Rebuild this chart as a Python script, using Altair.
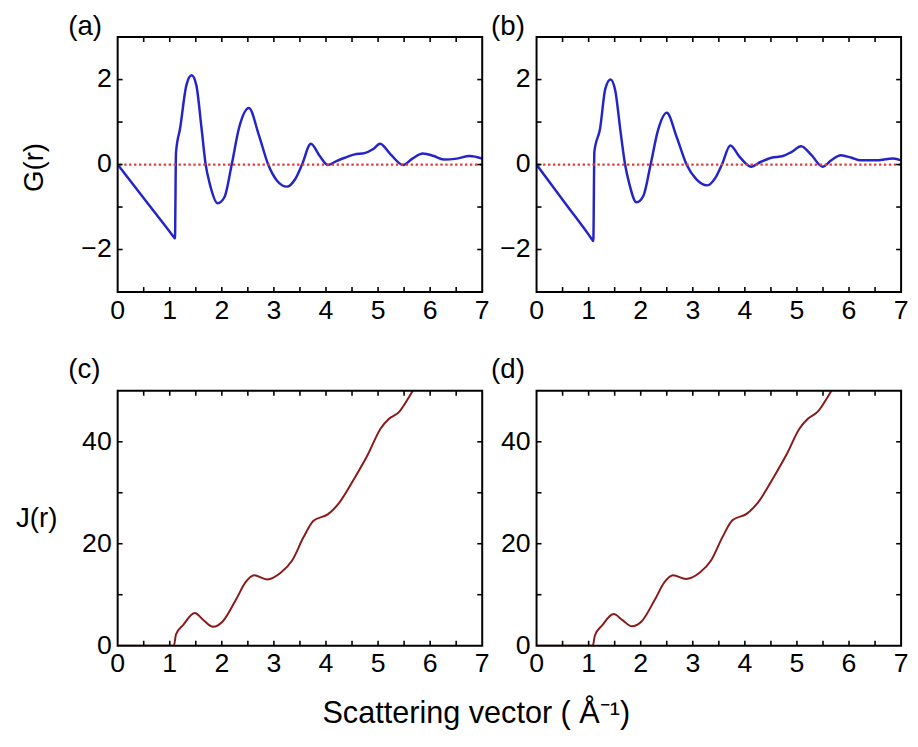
import altair as alt
import pandas as pd

FONT = "Liberation Sans"

# ---- data ----
# (a) G(r)
ga_x = [0.00, 0.55, 1.00, 1.08, 1.10, 1.12, 1.20, 1.32, 1.42, 1.51, 1.61, 1.69, 1.77, 1.92,
        2.05, 2.19, 2.33, 2.52, 2.71, 2.89, 3.06, 3.25, 3.41, 3.54, 3.71, 3.88, 4.04, 4.20,
        4.36, 4.55, 4.74, 4.90, 5.04, 5.24, 5.48, 5.66, 5.86, 6.07, 6.26, 6.51, 6.76, 7.00]
ga_y = [0.00, -0.87, -1.58, -1.71, -1.74, 0.28, 0.86, 1.87, 2.10, 1.87, 0.86, 0.00, -0.46, -0.91,
        -0.77, 0.00, 0.86, 1.33, 0.70, 0.00, -0.38, -0.52, -0.34, 0.00, 0.49, 0.20, -0.01, 0.08,
        0.16, 0.24, 0.27, 0.36, 0.49, 0.24, -0.01, 0.14, 0.26, 0.20, 0.12, 0.14, 0.20, 0.14]
# (b) G(r)
gb_x = [0.00, 0.55, 1.00, 1.07, 1.09, 1.11, 1.22, 1.32, 1.42, 1.51, 1.61, 1.70, 1.78, 1.92,
        2.05, 2.19, 2.33, 2.50, 2.69, 2.88, 3.07, 3.28, 3.43, 3.56, 3.72, 3.90, 4.12, 4.30,
        4.51, 4.73, 4.90, 5.08, 5.28, 5.49, 5.66, 5.84, 6.05, 6.22, 6.50, 6.85, 7.00]
gb_y = [0.00, -0.91, -1.65, -1.77, -1.80, 0.30, 0.85, 1.78, 2.00, 1.75, 0.80, 0.00, -0.45, -0.89,
        -0.74, 0.00, 0.80, 1.22, 0.65, 0.00, -0.35, -0.49, -0.32, 0.00, 0.45, 0.18, -0.05, 0.06,
        0.16, 0.20, 0.30, 0.43, 0.22, -0.05, 0.10, 0.22, 0.16, 0.10, 0.10, 0.14, 0.10]
# (c) J(r)
jc_x = [0.00, 1.08, 1.12, 1.26, 1.48, 1.65, 1.83, 2.02, 2.27, 2.46, 2.62, 2.87, 3.13, 3.35,
        3.57, 3.76, 4.04, 4.23, 4.55, 4.80, 5.05, 5.21, 5.40, 5.59, 5.72]
jc_y = [0.0, 0.0, 2.2, 4.1, 6.4, 5.0, 3.7, 4.8, 9.0, 12.5, 13.8, 13.0, 14.3, 16.7,
        21.3, 24.5, 25.8, 27.7, 32.9, 37.4, 42.6, 44.5, 45.8, 48.7, 51.0]
# (d) J(r)
jd_x = [0.00, 1.08, 1.12, 1.26, 1.48, 1.65, 1.83, 2.02, 2.27, 2.46, 2.62, 2.87, 3.13, 3.35,
        3.57, 3.76, 4.04, 4.23, 4.55, 4.80, 5.05, 5.21, 5.40, 5.59, 5.72]
jd_y = [0.0, 0.0, 2.0, 4.0, 6.2, 5.0, 3.8, 4.8, 9.0, 12.5, 13.8, 13.1, 14.3, 16.7,
        21.3, 24.6, 25.9, 27.8, 33.0, 37.5, 42.6, 44.5, 45.9, 48.8, 51.0]

x_labels = [0, 1, 2, 3, 4, 5, 6, 7]
x_ticks = [0.5, 1, 1.5, 2, 2.5, 3, 3.5, 4, 4.5, 5, 5.5, 6, 6.5]
g_labels = [-2, 0, 2]
g_ticks = [-2, -1, 0, 1, 2]
j_labels = [0, 20, 40]
j_ticks = [10, 20, 30, 40]
zero_level = [0]
panel_labels = ["(a)", "(b)", "(c)", "(d)"]
y_titles = ["G(r)", "J(r)"]
x_title = ["Scattering vector ( Å⁻¹)"]
frame_row = [0]

XDOM = [0, 7]
W, H = 369, 258
TICK = 5
LBL = 27
BLUE = "#2424c8"
RED = "#8a1a1a"


def text_layer(strings, **kw):
    pos = {k: kw.pop(k) for k in ("x", "y")}
    return alt.Chart(pd.DataFrame({"s": strings})).mark_text(
        font=FONT, color="black", **kw).encode(
        text="s:N", x=alt.value(pos["x"]), y=alt.value(pos["y"]))


def panel(xs, ys, color, width, ydom, yticks, ylabels, label, lab_dx, lab_dy, extra, zero):
    xsc = alt.Scale(domain=XDOM, nice=False, zero=False)
    ysc = alt.Scale(domain=ydom, nice=False, zero=False)

    line = alt.Chart(pd.DataFrame({"x": xs, "y": ys})).mark_line(
        color=color, strokeWidth=width, interpolate="monotone", clip=True).encode(
        x=alt.X("x:Q", scale=xsc, axis=None), y=alt.Y("y:Q", scale=ysc, axis=None))

    # inward tick marks: tick length converted from pixels to data units
    ylen = TICK / H * (ydom[1] - ydom[0])
    xlen = TICK / W * (XDOM[1] - XDOM[0])
    nx, ny = len(x_ticks), len(yticks)
    xtick_df = pd.DataFrame({
        "t": x_ticks * 2,
        "a": [ydom[0]] * nx + [ydom[1] - ylen] * nx,
        "b": [ydom[0] + ylen] * nx + [ydom[1]] * nx})
    ytick_df = pd.DataFrame({
        "t": yticks * 2,
        "a": [XDOM[0]] * ny + [XDOM[1] - xlen] * ny,
        "b": [XDOM[0] + xlen] * ny + [XDOM[1]] * ny})
    rk = dict(color="black", strokeWidth=1.6)
    xtk = alt.Chart(xtick_df).mark_rule(**rk).encode(
        x=alt.X("t:Q", scale=xsc, axis=None),
        y=alt.Y("a:Q", scale=ysc, axis=None), y2="b:Q")
    ytk = alt.Chart(ytick_df).mark_rule(**rk).encode(
        y=alt.Y("t:Q", scale=ysc, axis=None),
        x=alt.X("a:Q", scale=xsc, axis=None), x2="b:Q")

    frame = alt.Chart(pd.DataFrame({"f": frame_row})).mark_rect(
        filled=False, stroke="black", strokeWidth=2).encode(
        x=alt.value(0), x2=alt.value(W), y=alt.value(0), y2=alt.value(H))

    xlab = alt.Chart(pd.DataFrame({"v": x_labels})).mark_text(
        font=FONT, fontSize=LBL, color="black", align="center", baseline="alphabetic").encode(
        x=alt.X("v:Q", scale=xsc, axis=None), y=alt.value(H + 27),
        text=alt.Text("v:Q", format="d"))
    ylab = alt.Chart(pd.DataFrame({"v": ylabels})).mark_text(
        font=FONT, fontSize=LBL, color="black", align="right", baseline="middle").encode(
        y=alt.Y("v:Q", scale=ysc, axis=None), x=alt.value(-6),
        text=alt.Text("v:Q", format="d"))
    plab = text_layer([label], x=lab_dx, y=lab_dy, fontSize=28, align="left",
                      baseline="alphabetic")

    layers = [line]
    if zero:
        zl = alt.Chart(pd.DataFrame({"z": zero_level})).mark_rule(
            color="#e23c3c", strokeWidth=2.2, strokeDash=[2.4, 2.6]).encode(
            y=alt.Y("z:Q", scale=ysc, axis=None))
        layers.append(zl)
    layers += [xtk, ytk, frame, xlab, ylab, plab] + extra
    return alt.layer(*layers).properties(width=W, height=H)


g_title = text_layer([y_titles[0]], x=-84, y=132, fontSize=28, angle=270, align="center",
                     baseline="middle")
j_title = text_layer([y_titles[1]], x=-82, y=130, fontSize=28, align="center",
                     baseline="middle")
x_title_mark = text_layer(x_title, x=363, y=H + 78, fontSize=31, align="center",
                          baseline="alphabetic")

pa = panel(ga_x, ga_y, BLUE, 2.5, [-3, 3], g_ticks, g_labels, panel_labels[0], -50, -2,
           [g_title], True)
pb = panel(gb_x, gb_y, BLUE, 2.5, [-3, 3], g_ticks, g_labels, panel_labels[1], -46, -2,
           [], True)
pc = panel(jc_x, jc_y, RED, 2, [0, 50], j_ticks, j_labels, panel_labels[2], -50, -13,
           [j_title, x_title_mark], False)
pd_ = panel(jd_x, jd_y, RED, 2, [0, 50], j_ticks, j_labels, panel_labels[3], -46, -13,
            [], False)

chart = alt.concat(
    pa, pb, pc, pd_, columns=2, spacing={"row": 100, "column": 55}, bounds="flush"
).properties(
    padding={"left": 7, "top": 0, "right": 0, "bottom": 5}
).configure_view(stroke="transparent")

chart.save("out.html", embed_options={"renderer": "svg", "actions": False})
